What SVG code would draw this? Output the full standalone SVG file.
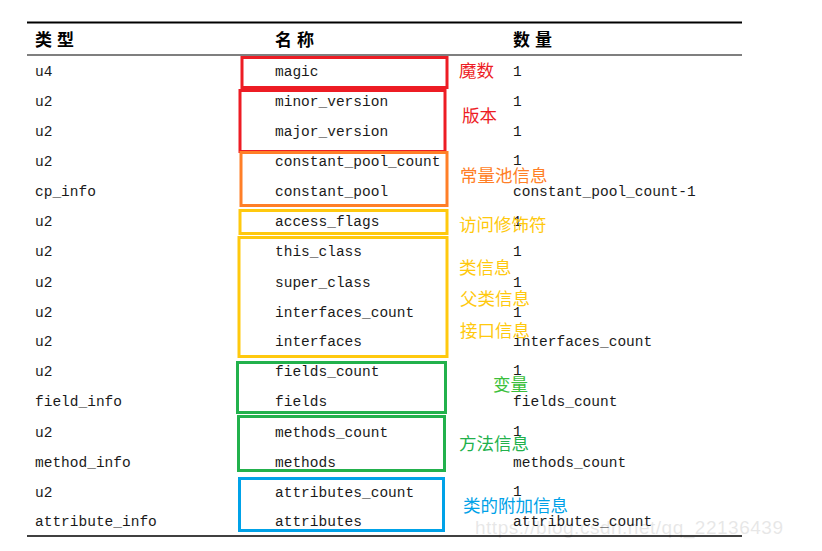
<svg xmlns="http://www.w3.org/2000/svg" width="822" height="551" viewBox="0 0 822 551">
<style>
.m{font-family:"Liberation Mono","Courier New",monospace;font-size:14.5px;fill:#1a1a1a}
.h{font-family:"Noto Sans CJK SC","Noto Sans",sans-serif;font-size:17px;font-weight:bold;fill:#000;letter-spacing:5px}
.l{font-family:"Noto Sans CJK SC","Noto Sans",sans-serif;font-size:17.5px}
.b{fill:none;stroke-width:3}
.wm{font-family:"Liberation Sans",Arial,sans-serif;font-size:19px;fill:#000;opacity:0.09}
</style>
<rect width="822" height="551" fill="#fff"/>
<g id="table-lines">
<line x1="27" y1="22.5" x2="742" y2="22.5" stroke="#000" stroke-width="2.2"/>
<line x1="27" y1="55" x2="742" y2="55" stroke="#000" stroke-width="1.2"/>
<line x1="27" y1="536" x2="742" y2="536" stroke="#000" stroke-width="1.5"/>
</g>
<g id="header">
<text class="h" x="35" y="46">类型</text>
<text class="h" x="275" y="46">名称</text>
<text class="h" x="513" y="46">数量</text>
</g>
<g id="col-type" class="m">
<text class="m" x="35" y="76">u4</text>
<text class="m" x="35" y="106">u2</text>
<text class="m" x="35" y="136">u2</text>
<text class="m" x="35" y="166">u2</text>
<text class="m" x="35" y="196">cp_info</text>
<text class="m" x="35" y="226">u2</text>
<text class="m" x="35" y="256">u2</text>
<text class="m" x="35" y="287">u2</text>
<text class="m" x="35" y="317">u2</text>
<text class="m" x="35" y="346">u2</text>
<text class="m" x="35" y="376">u2</text>
<text class="m" x="35" y="406">field_info</text>
<text class="m" x="35" y="437">u2</text>
<text class="m" x="35" y="467">method_info</text>
<text class="m" x="35" y="497">u2</text>
<text class="m" x="35" y="526">attribute_info</text>
</g>
<g id="col-name">
<text class="m" x="275" y="76">magic</text>
<text class="m" x="275" y="106">minor_version</text>
<text class="m" x="275" y="136">major_version</text>
<text class="m" x="275" y="166">constant_pool_count</text>
<text class="m" x="275" y="196">constant_pool</text>
<text class="m" x="275" y="226">access_flags</text>
<text class="m" x="275" y="256">this_class</text>
<text class="m" x="275" y="287">super_class</text>
<text class="m" x="275" y="317">interfaces_count</text>
<text class="m" x="275" y="346">interfaces</text>
<text class="m" x="275" y="376">fields_count</text>
<text class="m" x="275" y="406">fields</text>
<text class="m" x="275" y="437">methods_count</text>
<text class="m" x="275" y="467">methods</text>
<text class="m" x="275" y="497">attributes_count</text>
<text class="m" x="275" y="526">attributes</text>
</g>
<g id="col-qty">
<text class="m" x="513" y="76">1</text>
<text class="m" x="513" y="106">1</text>
<text class="m" x="513" y="136">1</text>
<text class="m" x="513" y="165">1</text>
<text class="m" x="513" y="196">constant_pool_count-1</text>
<text class="m" x="513" y="226">1</text>
<text class="m" x="513" y="256">1</text>
<text class="m" x="513" y="287">1</text>
<text class="m" x="513" y="317">1</text>
<text class="m" x="513" y="346">interfaces_count</text>
<text class="m" x="513" y="375">1</text>
<text class="m" x="513" y="406">fields_count</text>
<text class="m" x="513" y="436">1</text>
<text class="m" x="513" y="467">methods_count</text>
<text class="m" x="513" y="496">1</text>
<text class="m" x="513" y="526">attributes_count</text>
</g>
<g id="box-magic"><rect class="b" x="242" y="57.5" width="205" height="30" stroke="#ED1C24"/><text class="l" x="459" y="77" fill="#ED1C24">魔数</text></g>
<g id="box-version"><rect class="b" x="240" y="90.5" width="205" height="61" stroke="#ED1C24"/><text class="l" x="462" y="122" fill="#ED1C24">版本</text></g>
<g id="box-constpool"><rect class="b" x="241" y="152.5" width="206" height="53" stroke="#FF7F27"/><text class="l" x="460" y="182" fill="#FF7F27">常量池信息</text></g>
<g id="box-access"><rect class="b" x="240" y="210.5" width="207" height="23" stroke="#FFC90E"/><text class="l" x="459" y="231" fill="#FFC90E">访问修饰符</text></g>
<g id="box-class"><rect class="b" x="239" y="237.5" width="208" height="119" stroke="#FFC90E"/>
<text class="l" x="459" y="274" fill="#FFC90E">类信息</text>
<text class="l" x="460" y="305" fill="#FFC90E">父类信息</text>
<text class="l" x="460" y="337" fill="#FFC90E">接口信息</text></g>
<g id="box-fields"><rect class="b" x="237.5" y="362.5" width="208" height="50" stroke="#22B14C"/><text class="l" x="493" y="391" fill="#3BBF3B">变量</text></g>
<g id="box-methods"><rect class="b" x="238.5" y="416.5" width="206" height="54" stroke="#22B14C"/><text class="l" x="459" y="450" fill="#22B14C">方法信息</text></g>
<g id="box-attributes"><rect class="b" x="239.5" y="478.5" width="204" height="52" stroke="#00A2E8"/><text class="l" x="463" y="512" fill="#00A2E8">类的附加信息</text></g>
<text class="wm" x="475" y="534" textLength="308">https://blog.csdn.net/qq_22136439</text>
</svg>
